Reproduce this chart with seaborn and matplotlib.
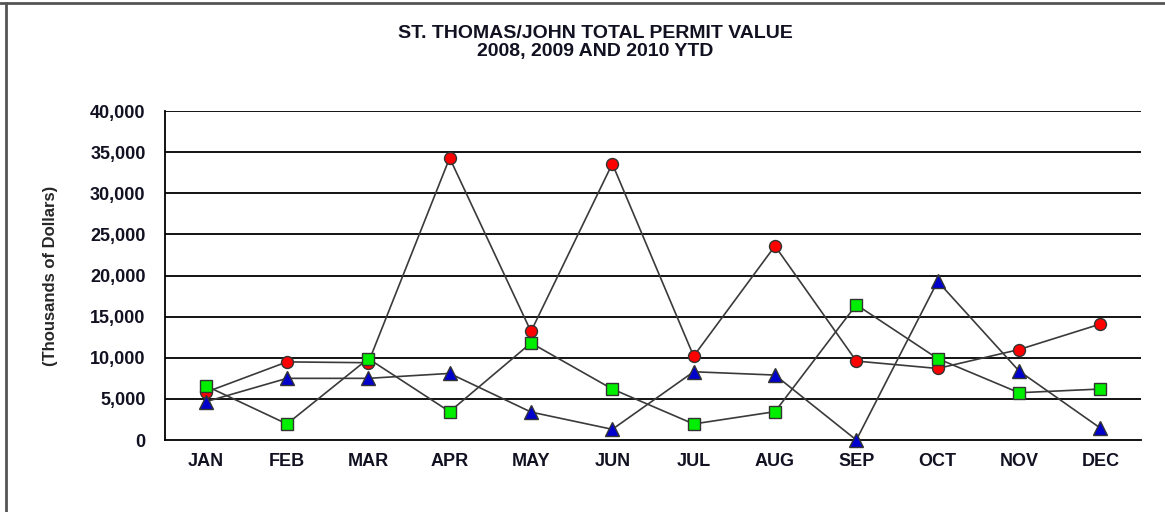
import numpy as np
import pandas as pd
import matplotlib
matplotlib.use("Agg")
import matplotlib.pyplot as plt
from matplotlib.lines import Line2D
import seaborn as sns

months = ['JAN', 'FEB', 'MAR', 'APR', 'MAY', 'JUN', 'JUL', 'AUG', 'SEP', 'OCT', 'NOV', 'DEC']
# permit value, thousands of dollars
red_vals = [5800, 9500, 9400, 34300, 13200, 33600, 10200, 23600, 9600, 8700, 11000, 14100]
blue_vals = [4650, 7500, 7500, 8100, 3400, 1300, 8300, 7900, 0, 19300, 8400, 1450]
green_vals = [6600, 1950, 9900, 3450, 11800, 6200, 1950, 3450, 16450, 9900, 5750, 6200]
y_ticks = [0, 5000, 10000, 15000, 20000, 25000, 30000, 35000, 40000]

sns.set_style("white")
plt.rcParams['font.family'] = ['Liberation Sans', 'DejaVu Sans']

fig = plt.figure(figsize=(11.65, 5.12), dpi=100)
ax = fig.add_axes([0.1416, 0.1406, 0.8378, 0.6424])

idx = np.arange(len(months))
# draw order: red first, then blue, green on top
series = [
    (red_vals, 'o', '#ff0000', 8.6),
    (blue_vals, '^', '#0000cc', 9.5),
    (green_vals, 's', '#00ee00', 8.6),
]
for vals, mk, col, ms in series:
    df = pd.DataFrame({'month': idx, 'value': vals})
    sns.lineplot(data=df, x='month', y='value', ax=ax, color='#3a3a3a', lw=1.2,
                 marker=mk, markerfacecolor=col, markeredgecolor='#333333',
                 markeredgewidth=1.0, markersize=ms, zorder=3, clip_on=False)

ax.set_xlim(-0.5, 11.5)
ax.set_ylim(0, 40000)
ax.set_yticks(y_ticks)
ax.set_yticklabels([f'{v:,}' for v in y_ticks], fontsize=13, fontweight='bold', color='#111122')
for v in y_ticks[1:]:
    ax.axhline(v, color='black', lw=1.3, zorder=1)

# tick marks on category boundaries, labels at category centres
ax.set_xticks(np.arange(-0.5, 12, 1))
ax.set_xticklabels([])
ax.set_xticks(idx, minor=True)
ax.set_xticklabels(months, minor=True, fontsize=13, fontweight='bold', color='#111122')
ax.tick_params(axis='x', which='major', direction='out', length=7, width=1.2, color='black')
ax.tick_params(axis='x', which='minor', length=0, pad=9)
ax.tick_params(axis='y', direction='out', length=7, width=1.2, color='black', pad=7)

ax.set_xlabel('')
ax.set_ylabel('(Thousands of Dollars)', fontsize=12, fontweight='bold')
ax.yaxis.set_label_coords(-0.110, 0.5)

for s in ['top', 'right']:
    ax.spines[s].set_visible(False)
for s in ['left', 'bottom']:
    ax.spines[s].set_color('black')
    ax.spines[s].set_linewidth(1.3)

fig.text(0.511, 0.935, 'ST. THOMAS/JOHN TOTAL PERMIT VALUE', ha='center', va='center',
         fontsize=14, fontweight='bold', color='#111122')
fig.text(0.511, 0.899, '2008, 2009 AND 2010 YTD', ha='center', va='center',
         fontsize=14, fontweight='bold', color='#111122')

# page border lines (top and left)
fig.add_artist(Line2D([0, 1], [0.994, 0.994], transform=fig.transFigure, color='#555555', lw=2))
fig.add_artist(Line2D([0.0055, 0.0055], [0, 0.994], transform=fig.transFigure, color='#555555', lw=2))

fig.savefig('out.png', dpi=100)
